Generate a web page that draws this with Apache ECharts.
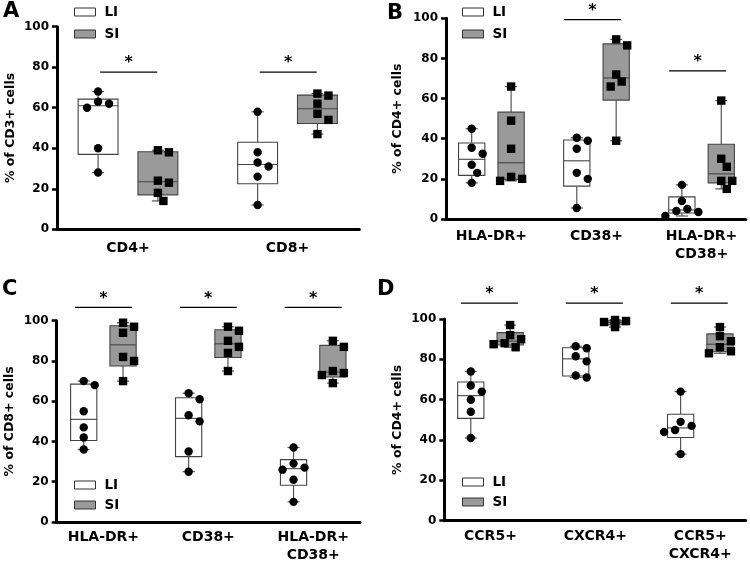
<!DOCTYPE html>
<html><head><meta charset="utf-8">
<script src="https://cdn.jsdelivr.net/npm/echarts@6/dist/echarts.min.js"></script>
<style>html,body{margin:0;padding:0;background:#fff}#c{width:750px;height:566px}</style>
</head><body><div id="c"></div>
<script>
// ---- Panel A ----
const catsA = ['CD4+', 'CD8+'];
const liA = [[68, 63, 62, 60, 40, 28], [58, 38, 33, 31, 26, 12]];
const siA = [[39, 38, 24, 23, 18, 14], [67, 66, 62, 57, 54, 47]];
const sigA = [77.6, 77.6];
// ---- Panel B ----
const catsB = ['HLA-DR+', 'CD38+', 'HLA-DR+\nCD38+'];
const liB = [[45, 35.5, 32.5, 27, 23, 18], [40.5, 39, 35, 23, 20, 5.5], [17, 9, 5, 4, 3.5, 1.5]];
const siB = [[66, 49, 35, 21, 20, 19], [89.5, 86.5, 72, 68.5, 66, 39], [59, 30, 26, 19, 19, 15]];
const sigB = [null, 99.3, 73.8];
// ---- Panel C ----
const catsC = ['HLA-DR+', 'CD38+', 'HLA-DR+\nCD38+'];
const liC = [[70, 68, 55, 47, 42, 36], [64, 61, 53, 50, 35, 25], [37, 29, 27, 26, 21, 10]];
const siC = [[99, 97, 94, 82, 80, 70], [97, 95, 90, 87, 84, 75], [90, 87, 75, 74, 73, 69]];
const sigC = [106.6, 106.6, 106.6];
// ---- Panel D ----
const catsD = ['CCR5+', 'CXCR4+', 'CCR5+\nCXCR4+'];
const liD = [[74, 67, 64, 60, 54, 41], [86.5, 85.5, 81.5, 79, 72, 71], [64, 49, 47, 45, 44, 33]];
const siD = [[97, 92, 90, 88, 87.5, 86], [99.5, 99, 98.5, 98, 97.5, 96], [96, 91.5, 89, 86, 84, 83]];
const sigD = [107.9, 107.9, 107.9];
// ---- Axis texts ----
const yNames = ['% of CD3+ cells', '% of CD4+ cells', '% of CD8+ cells', '% of CD4+ cells'];
const panelLetters = ['A', 'B', 'C', 'D'];
const yTicks = [0, 20, 40, 60, 80, 100];
const groupNames = ['LI', 'SI'];

const FONT = 'DejaVu Sans';
const GRAY = '#9a9a9a';

const panels = [
  { cats: catsA, li: liA, si: siA, sig: sigA, grid: { left: 57, top: 26.7, width: 302.3, height: 202.6 }, min: -0.445, max: 1.45,
    letter: [3, 1], legend: { left: 74, top: 5, gap: 8 }, labelMargin: 10, nameGap: 40, sigShift: 0.7 },
  { cats: catsB, li: liB, si: siB, sig: sigB, grid: { left: 446, top: 18.3, width: 299.7, height: 200.7 }, min: -0.432, max: 2.42,
    letter: [387, 3], legend: { left: 462, top: 5, gap: 8 }, labelMargin: 8, nameGap: 42, sigShift: -4 },
  { cats: catsC, li: liC, si: siC, sig: sigC, grid: { left: 56.7, top: 320.7, width: 303.3, height: 201.3 }, min: -0.445, max: 2.446,
    letter: [2, 279], legend: { left: 74, top: 478, gap: 6 }, labelMargin: 6.5, nameGap: 40, sigShift: 0 },
  { cats: catsD, li: liD, si: siD, sig: sigD, grid: { left: 444.3, top: 319, width: 301.4, height: 201.7 }, min: -0.44, max: 2.433,
    letter: [377, 279], legend: { left: 462, top: 475, gap: 6 }, labelMargin: 7, nameGap: 40, sigShift: -1 }
];

function quant(s, p) {
  const n = s.length, pos = p * (n + 1);
  if (pos <= 1) return s[0];
  if (pos >= n) return s[n - 1];
  const lo = Math.floor(pos), f = pos - lo;
  return s[lo - 1] + f * (s[lo] - s[lo - 1]);
}

function makeRender(offset, fill, square) {
  return function (params, api) {
    const i = api.value(0);
    const vals = [];
    for (let k = 1; k <= 6; k++) vals.push(api.value(k));
    const s = vals.slice().sort((a, b) => a - b);
    const q1 = quant(s, 0.25), med = quant(s, 0.5), q3 = quant(s, 0.75);
    const cx = api.coord([i + offset, 0])[0];
    const bw = api.size([0.25, 0])[0];
    const Y = v => api.coord([i, v])[1];
    const lineStyle = { stroke: '#555', lineWidth: 1.2 };
    const ch = [];
    ch.push({ type: 'line', shape: { x1: cx, y1: Y(s[5]), x2: cx, y2: Y(q3) }, style: lineStyle });
    ch.push({ type: 'line', shape: { x1: cx, y1: Y(q1), x2: cx, y2: Y(s[0]) }, style: lineStyle });
    ch.push({ type: 'line', shape: { x1: cx - 6, y1: Y(s[5]), x2: cx + 6, y2: Y(s[5]) }, style: lineStyle });
    ch.push({ type: 'line', shape: { x1: cx - 6, y1: Y(s[0]), x2: cx + 6, y2: Y(s[0]) }, style: lineStyle });
    ch.push({ type: 'rect', shape: { x: cx - bw / 2, y: Y(q3), width: bw, height: Y(q1) - Y(q3) },
      style: { fill: fill, stroke: '#444', lineWidth: 1.1 } });
    ch.push({ type: 'line', shape: { x1: cx - bw / 2, y1: Y(med), x2: cx + bw / 2, y2: Y(med) }, style: { stroke: '#444', lineWidth: 1.1 } });
    // simple beeswarm placement
    const d = 8.4, h = 5.5;
    const placed = [];
    const cands = [0, h, -h, 2 * h, -2 * h, 3 * h, -3 * h];
    vals.forEach(v => {
      const py = Y(v);
      let off = 0;
      for (const c of cands) {
        let ok = true;
        for (const p of placed) {
          const dx = c - p[0], dy = py - p[1];
          if (dx * dx + dy * dy < d * d) { ok = false; break; }
        }
        if (ok) { off = c; break; }
      }
      placed.push([off, py]);
      if (square) {
        ch.push({ type: 'rect', shape: { x: cx + off - d / 2, y: py - d / 2, width: d, height: d }, style: { fill: '#000' } });
      } else {
        ch.push({ type: 'circle', shape: { cx: cx + off, cy: py, r: d / 2 }, style: { fill: '#000' } });
      }
    });
    return { type: 'group', children: ch };
  };
}

function makeSigRender(shift) {
  return function (params, api) {
    const p = api.coord([api.value(0), api.value(1)]);
    const x = p[0] + shift;
    return {
      type: 'group', children: [
        { type: 'line', shape: { x1: x - 28.5, y1: p[1], x2: x + 28.5, y2: p[1] }, style: { stroke: '#000', lineWidth: 1.2 } },
        { type: 'text', style: { x: x, y: p[1] - 9, text: '*', fill: '#000', font: 'bold 16px "DejaVu Sans"', textAlign: 'center', textVerticalAlign: 'middle' } }
      ]
    };
  };
}

const option = { animation: false, backgroundColor: '#fff', grid: [], xAxis: [], yAxis: [], series: [], legend: [], graphic: [] };

panels.forEach((P, k) => {
  option.grid.push(Object.assign({ containLabel: false }, P.grid));
  option.xAxis.push({
    type: 'value', gridIndex: k, min: P.min, max: P.max,
    axisLine: { onZero: false, lineStyle: { color: '#000', width: 3 } },
    axisTick: { show: false }, splitLine: { show: false },
    axisLabel: {
      customValues: P.cats.map((c, i) => i),
      formatter: v => P.cats[Math.round(v)],
      margin: P.labelMargin, color: '#000', fontFamily: FONT, fontWeight: 'bold', fontSize: 14, lineHeight: 18
    }
  });
  option.yAxis.push({
    type: 'value', gridIndex: k, min: 0, max: 100, interval: 20,
    name: yNames[k], nameLocation: 'middle', nameGap: P.nameGap,
    nameTextStyle: { color: '#000', fontFamily: FONT, fontWeight: 'bold', fontSize: 12.5 },
    axisLine: { show: true, onZero: false, lineStyle: { color: '#000', width: 3 } },
    axisTick: { show: true, length: 5, lineStyle: { color: '#000', width: 2.5 } },
    splitLine: { show: false },
    axisLabel: { customValues: yTicks, margin: 8, color: '#000', fontFamily: FONT, fontWeight: 'bold', fontSize: 12 }
  });
  option.series.push({
    type: 'custom', name: groupNames[0], xAxisIndex: k, yAxisIndex: k,
    renderItem: makeRender(-0.1875, '#fff', false),
    encode: { x: 0, y: [1, 2, 3, 4, 5, 6] },
    data: P.li.map((vals, i) => [i].concat(vals)), z: 3
  });
  option.series.push({
    type: 'custom', name: groupNames[1], xAxisIndex: k, yAxisIndex: k,
    renderItem: makeRender(0.1875, GRAY, true),
    encode: { x: 0, y: [1, 2, 3, 4, 5, 6] },
    data: P.si.map((vals, i) => [i].concat(vals)), z: 3
  });
  option.series.push({
    type: 'custom', name: 'sig' + k, xAxisIndex: k, yAxisIndex: k, clip: false,
    renderItem: makeSigRender(P.sigShift),
    encode: { x: 0, y: 1 },
    data: P.sig.map((v, i) => v == null ? null : [i, v]).filter(x => x), z: 4
  });
  option.legend.push({
    left: P.legend.left, top: P.legend.top, padding: 0, orient: 'vertical', itemWidth: 21, itemHeight: 8, itemGap: P.legend.gap,
    selectedMode: false,
    textStyle: { color: '#000', fontFamily: FONT, fontWeight: 'bold', fontSize: 13.5, padding: [0, 0, 0, 4] },
    data: [
      { name: groupNames[0], icon: 'rect', itemStyle: { color: '#fff', borderColor: '#333', borderWidth: 1 } },
      { name: groupNames[1], icon: 'rect', itemStyle: { color: GRAY, borderColor: '#333', borderWidth: 1 } }
    ]
  });
  option.graphic.push({
    type: 'text', left: P.letter[0], top: P.letter[1],
    style: { text: panelLetters[k], fill: '#000', font: 'bold 21px "DejaVu Sans"' }
  });
});

const chart = echarts.init(document.getElementById('c'), null, { renderer: 'canvas' });
chart.setOption(option);
</script>
</body></html>
